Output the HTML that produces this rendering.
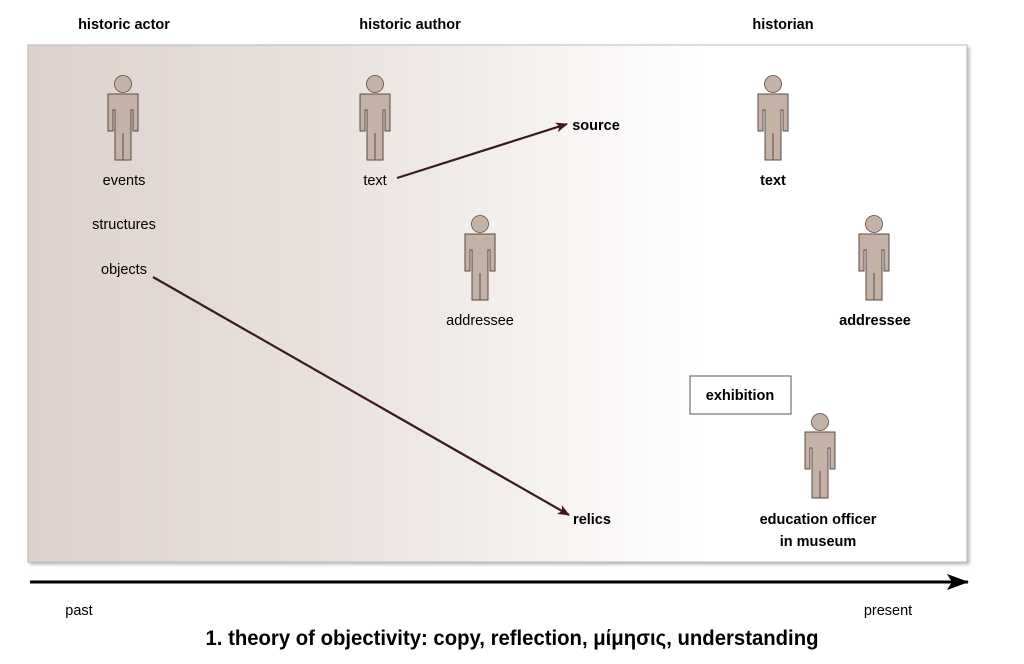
<!DOCTYPE html>
<html><head><meta charset="utf-8"><style>
body{margin:0;width:1024px;height:659px;background:#fff;overflow:hidden;font-family:"Liberation Sans",sans-serif}
</style></head><body>
<svg width="1024" height="659" viewBox="0 0 1024 659" xmlns="http://www.w3.org/2000/svg" font-family="Liberation Sans, sans-serif">
<defs>
<linearGradient id="bg" x1="0" x2="1" y1="0" y2="0">
<stop offset="0" stop-color="#ddd1cb"/>
<stop offset="0.35" stop-color="#ebe3df"/>
<stop offset="0.72" stop-color="#ffffff"/>
<stop offset="1" stop-color="#ffffff"/>
</linearGradient>
<filter id="sh"><feDropShadow dx="2" dy="2" stdDeviation="1.5" flood-color="#888" flood-opacity="0.6"/></filter>
<g id="man">
<circle cx="0" cy="9" r="8.5" fill="#c4b2a7" stroke="#5a4a42" stroke-width="0.8"/>
<path d="M-15 19 H15 V56 H10 V35 H8 V85 H-8 V35 H-10 V56 H-15 Z" fill="#c4b2a7" stroke="#5a4a42" stroke-width="1"/>
<line x1="0" y1="58" x2="0" y2="85" stroke="#5a4a42" stroke-width="1"/>
</g>
<marker id="ah" markerWidth="12" markerHeight="10" refX="11" refY="5" orient="auto" markerUnits="userSpaceOnUse"><path d="M0 0 L12 5 L0 10 L3 5 Z" fill="#3a1a1e"/></marker>
<marker id="ah2" markerWidth="22" markerHeight="16" refX="21" refY="8" orient="auto" markerUnits="userSpaceOnUse"><path d="M0 0 L22 8 L0 16 L5 8 Z" fill="#000"/></marker>
</defs>
<rect x="28" y="45" width="939" height="517" fill="url(#bg)" stroke="#bbb" filter="url(#sh)"/>
<g font-size="14.5" font-weight="bold" text-anchor="middle" fill="#000">
<text x="124" y="29">historic actor</text>
<text x="410" y="29">historic author</text>
<text x="783" y="29">historian</text>
</g>
<use href="#man" x="123" y="75"/>
<use href="#man" x="375" y="75"/>
<use href="#man" x="773" y="75"/>
<use href="#man" x="480" y="215"/>
<use href="#man" x="874" y="215"/>
<use href="#man" x="820" y="413"/>
<g font-size="14.5" text-anchor="middle" fill="#000">
<text x="124" y="185">events</text>
<text x="124" y="229">structures</text>
<text x="124" y="274">objects</text>
<text x="375" y="185">text</text>
<text x="480" y="325">addressee</text>
</g>
<g font-size="14.5" font-weight="bold" text-anchor="middle" fill="#000">
<text x="596" y="130">source</text>
<text x="773" y="185">text</text>
<text x="875" y="325">addressee</text>
<text x="592" y="524">relics</text>
<text x="818" y="524">education officer</text>
<text x="818" y="546">in museum</text>
</g>
<rect x="690" y="376" width="101" height="38" fill="#fff" stroke="#555"/>
<text x="740" y="400" font-size="14.5" font-weight="bold" text-anchor="middle">exhibition</text>
<line x1="397" y1="178" x2="567" y2="124" stroke="#3a1a1e" stroke-width="2.2" marker-end="url(#ah)"/>
<line x1="153" y1="277" x2="569" y2="515" stroke="#3a1a1e" stroke-width="2.2" marker-end="url(#ah)"/>
<line x1="30" y1="582" x2="968" y2="582" stroke="#000" stroke-width="3" marker-end="url(#ah2)"/>
<text x="79" y="615" font-size="14.5" text-anchor="middle">past</text>
<text x="888" y="615" font-size="14.5" text-anchor="middle">present</text>
<text x="512" y="645" font-size="21" font-weight="bold" text-anchor="middle" textLength="613" lengthAdjust="spacingAndGlyphs">1. theory of objectivity: copy, reflection, μίμησις, understanding</text>
</svg>
</body></html>
